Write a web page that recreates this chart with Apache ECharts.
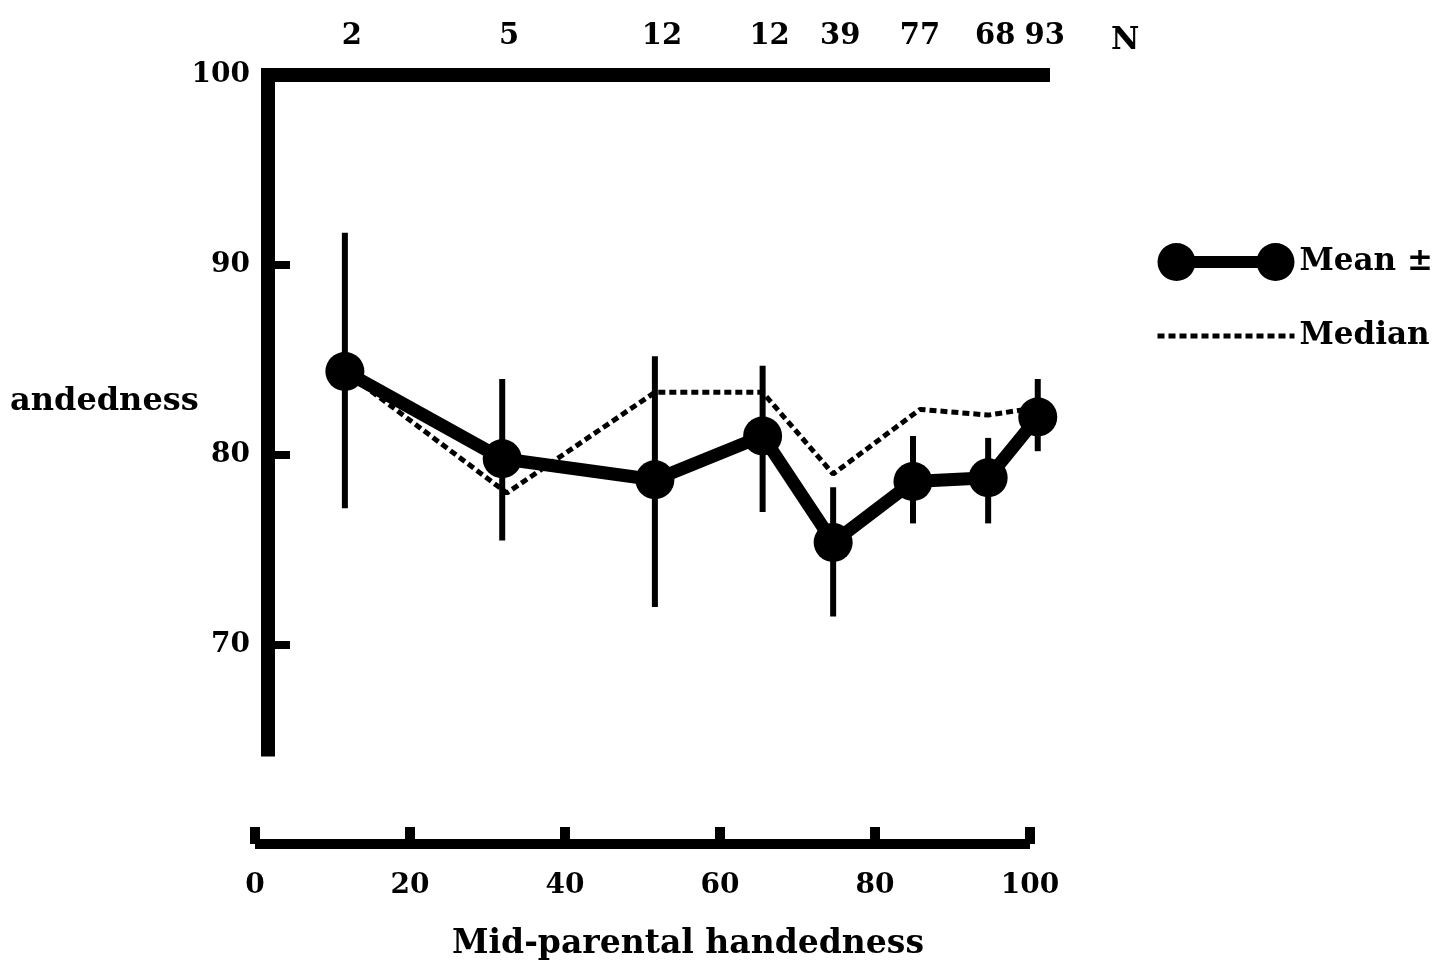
<!DOCTYPE html>
<html>
<head>
<meta charset="utf-8">
<script src="https://cdn.jsdelivr.net/npm/echarts@6/dist/echarts.min.js"></script>
<style>
  html, body { margin: 0; padding: 0; background: #fff; }
  #chart { width: 1444px; height: 970px; }
</style>
</head>
<body>
<div id="chart"></div>
<script>
// ---- data ----
const xs = [11.6, 31.9, 51.6, 65.5, 74.6, 84.9, 94.6, 101];
const nLabels = ['2', '5', '12', '12', '39', '77', '68', '93'];
const means = [84.4, 79.8, 78.7, 81.0, 75.4, 78.6, 78.8, 82.0];
const upper = [91.7, 84.0, 85.2, 84.7, 78.3, 81.0, 80.9, 84.0];
const lower = [77.2, 75.5, 72.0, 77.0, 71.5, 76.4, 76.4, 80.2];
const medianXs = [11.6, 32.5, 51.6, 65.5, 74.6, 85.8, 94.6, 101];
const medians = [84.4, 78.0, 83.3, 83.3, 79.0, 82.4, 82.1, 82.5];
const yTickValues = [70, 80, 90];
const yLabelValues = [70, 80, 90, 100];
const xBottomTicks = [0, 20, 40, 60, 80, 100];
const xTitle = 'Mid-parental handedness';
const yTitle = 'andedness';
const nTitle = 'N';

const FONT = 'DejaVu Serif';
const chart = echarts.init(document.getElementById('chart'), null, { renderer: 'canvas' });

const meanData = xs.map((x, i) => [x, means[i]]);
const medianData = medianXs.map((x, i) => [x, medians[i]]);
const barData = xs.map((x, i) => [x, lower[i], upper[i]]);

const meanIcon = 'path://M0,20 A19,19 0 1 1 38,20 A19,19 0 1 1 0,20 Z M19,14 L118,14 L118,26 L19,26 Z M99,20 A19,19 0 1 1 137,20 A19,19 0 1 1 99,20 Z';

chart.setOption({
  animation: false,
  backgroundColor: '#ffffff',
  textStyle: { fontFamily: FONT, color: '#000' },
  legend: {
    orient: 'vertical',
    left: 1150,
    top: 238,
    itemWidth: 137,
    itemHeight: 40,
    itemGap: 39,
    textStyle: { fontFamily: FONT, fontWeight: 'bold', fontSize: 31, color: '#000' },
    data: [
      { name: 'Mean ±', icon: meanIcon },
      { name: 'Median', itemStyle: { opacity: 0 }, lineStyle: { width: 5, type: [7, 4], color: '#000' } }
    ]
  },
  graphic: [
    { type: 'text', left: 10, top: 386, style: { text: yTitle, font: 'bold 32px "DejaVu Serif"', fill: '#000' } },
    { type: 'text', left: 1111, top: 25, style: { text: nTitle, font: 'bold 31px "DejaVu Serif"', fill: '#000' } },
    { type: 'text', left: 452, top: 928, style: { text: xTitle, font: 'bold 33px "DejaVu Serif"', fill: '#000' } }
  ],
  grid: [
    { left: 268, right: 394, top: 75, bottom: 220.5 },
    { left: 255, right: 414, top: 826, height: 18 }
  ],
  xAxis: [
    {
      gridIndex: 0,
      type: 'value',
      position: 'top',
      min: 1.68,
      max: 102.58,
      splitLine: { show: false },
      axisLine: { show: true, lineStyle: { color: '#000', width: 14, cap: 'butt' } },
      axisTick: { show: false },
      axisLabel: {
        customValues: xs,
        formatter: function (v) {
          const i = xs.indexOf(v);
          return i >= 0 ? nLabels[i] : '';
        },
        margin: 24,
        padding: [0, 0, 0, 14],
        fontFamily: FONT, fontWeight: 'bold', fontSize: 29, color: '#000'
      }
    },
    {
      gridIndex: 1,
      type: 'value',
      position: 'bottom',
      min: 0,
      max: 100,
      interval: 20,
      splitLine: { show: false },
      axisLine: { show: true, lineStyle: { color: '#000', width: 10, cap: 'butt' } },
      axisTick: { show: true, inside: true, length: 17, lineStyle: { color: '#000', width: 10 }, customValues: xBottomTicks },
      axisLabel: { margin: 28, fontFamily: FONT, fontWeight: 'bold', fontSize: 28, color: '#000', customValues: xBottomTicks }
    }
  ],
  yAxis: [
    {
      gridIndex: 0,
      type: 'value',
      min: 64.5,
      max: 100,
      splitLine: { show: false },
      axisLine: { show: true, lineStyle: { color: '#000', width: 14, cap: 'square' } },
      axisTick: { show: true, inside: true, length: 22, lineStyle: { color: '#000', width: 8 }, customValues: yTickValues },
      axisLabel: { margin: 18, fontFamily: FONT, fontWeight: 'bold', fontSize: 28, color: '#000', customValues: yLabelValues }
    },
    { gridIndex: 1, type: 'value', show: false, min: 0, max: 1 }
  ],
  series: [
    {
      name: 'Median',
      type: 'line',
      xAxisIndex: 0, yAxisIndex: 0,
      data: medianData,
      symbol: 'none',
      z: 2,
      lineStyle: { color: '#000', width: 5, type: [7, 4] },
      itemStyle: { color: '#000' }
    },
    {
      name: 'Error bars',
      type: 'custom',
      xAxisIndex: 0, yAxisIndex: 0,
      data: barData,
      z: 3,
      renderItem: function (params, api) {
        const x = api.value(0);
        const p1 = api.coord([x, api.value(1)]);
        const p2 = api.coord([x, api.value(2)]);
        return {
          type: 'line',
          shape: { x1: p1[0], y1: p1[1], x2: p2[0], y2: p2[1] },
          style: { stroke: '#000', lineWidth: 6 }
        };
      }
    },
    {
      name: 'Mean ±',
      type: 'line',
      xAxisIndex: 0, yAxisIndex: 0,
      data: meanData,
      symbol: 'circle',
      symbolSize: 39,
      z: 4,
      lineStyle: { color: '#000', width: 13 },
      itemStyle: { color: '#000' }
    }
  ]
});
</script>
</body>
</html>
